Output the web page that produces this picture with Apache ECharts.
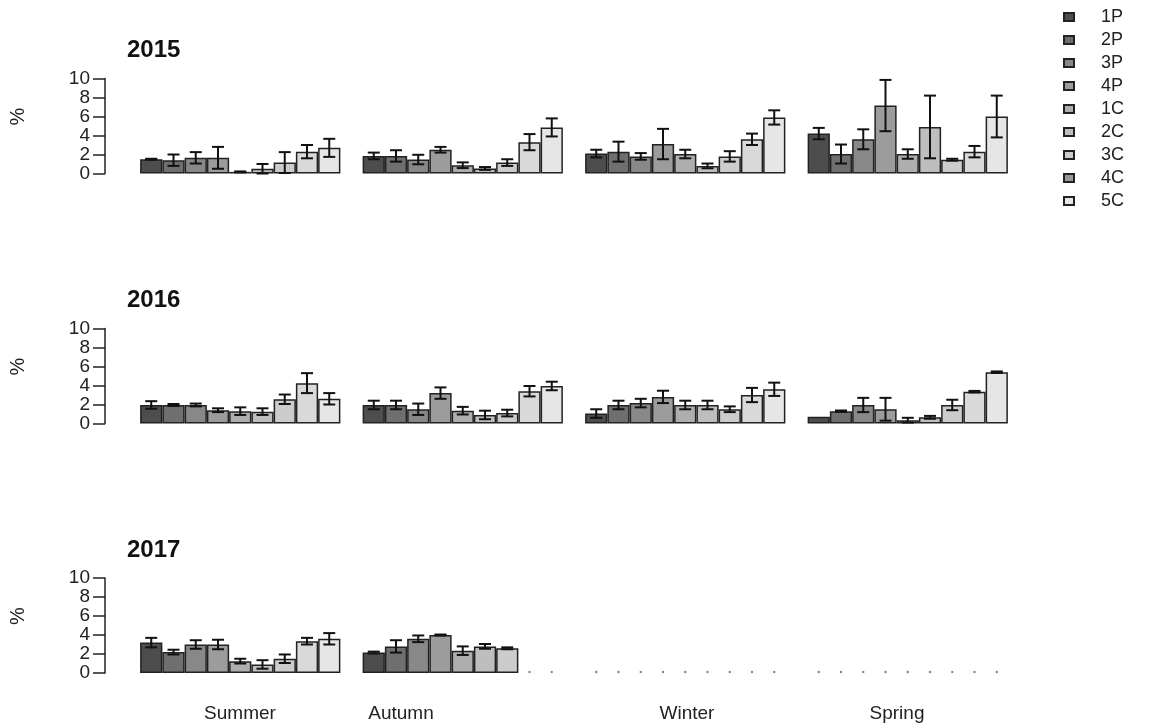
<!DOCTYPE html>
<html>
<head>
<meta charset="utf-8">
<script src="https://cdn.jsdelivr.net/npm/echarts@6/dist/echarts.min.js"></script>
<style>
html,body{margin:0;padding:0;background:#fff;}
#main{width:1149px;height:728px;}
</style>
</head>
<body>
<div id="main"></div>
<script>
var years = ['2015', '2016', '2017'];
var seasons = ['Summer', 'Autumn', 'Winter', 'Spring'];
var groups = ['1P', '2P', '3P', '4P', '1C', '2C', '3C', '4C', '5C'];
var colors = ['#4d4d4d', '#6f6f6f', '#888888', '#9c9c9c', '#aeaeae', '#bebebe', '#cccccc', '#d9d9d9', '#e6e6e6'];

// means per season (rows) and group (columns)
var mean2015 = [
	[1.5, 1.4, 1.65, 1.65, 0.17, 0.5, 1.15, 2.3, 2.7],
	[1.85, 1.85, 1.47, 2.5, 0.87, 0.53, 1.15, 3.3, 4.85],
	[2.1, 2.3, 1.8, 3.1, 2.05, 0.8, 1.8, 3.6, 5.9],
	[4.2, 2.05, 3.6, 7.15, 2.05, 4.9, 1.45, 2.3, 6.0]
];
var err2015 = [
	[0.05, 0.6, 0.6, 1.15, 0.05, 0.5, 1.1, 0.7, 0.95],
	[0.35, 0.6, 0.5, 0.3, 0.3, 0.15, 0.35, 0.85, 0.95],
	[0.4, 1.05, 0.35, 1.6, 0.45, 0.25, 0.55, 0.6, 0.75],
	[0.6, 1.0, 1.05, 2.7, 0.5, 3.3, 0.1, 0.6, 2.2]
];
var mean2016 = [
	[1.95, 1.95, 1.95, 1.4, 1.3, 1.25, 2.55, 4.25, 2.6],
	[1.95, 1.95, 1.5, 3.2, 1.35, 0.9, 1.1, 3.4, 3.95],
	[1.05, 1.95, 2.15, 2.8, 1.95, 1.95, 1.5, 3.0, 3.6],
	[0.7, 1.3, 1.95, 1.5, 0.35, 0.65, 1.95, 3.35, 5.4]
];
var err2016 = [
	[0.4, 0.1, 0.15, 0.2, 0.4, 0.35, 0.5, 1.05, 0.6],
	[0.45, 0.45, 0.6, 0.6, 0.4, 0.45, 0.35, 0.55, 0.45],
	[0.45, 0.45, 0.45, 0.65, 0.45, 0.45, 0.3, 0.75, 0.7],
	[0, 0.07, 0.75, 1.2, 0.25, 0.15, 0.55, 0.08, 0.08]
];
var mean2017 = [
	[3.2, 2.2, 3.0, 3.0, 1.25, 0.9, 1.5, 3.35, 3.6],
	[2.15, 2.8, 3.6, 4.0, 2.35, 2.8, 2.6, null, null],
	[null, null, null, null, null, null, null, null, null],
	[null, null, null, null, null, null, null, null, null]
];
var err2017 = [
	[0.5, 0.25, 0.45, 0.5, 0.25, 0.45, 0.45, 0.35, 0.6],
	[0.1, 0.65, 0.35, 0.05, 0.45, 0.25, 0.1, 0, 0],
	[0, 0, 0, 0, 0, 0, 0, 0, 0],
	[0, 0, 0, 0, 0, 0, 0, 0, 0]
];

var means = [mean2015, mean2016, mean2017];
var errs = [err2015, err2016, err2017];

var fontFam = '"Liberation Sans", Arial, sans-serif';
var gridTops = [78.5, 328.5, 578];
var chart = echarts.init(document.getElementById('main'));

var grids = [], xAxes = [], yAxes = [], series = [], graphics = [], titles = [];

function errorBars(params, api) {
	var s = api.value(0), v = api.value(1), e = api.value(2), g = api.value(3);
	var bw = api.size([1, 0])[0] / 10;
	var base = api.coord([s, 0]);
	var x = base[0] + (g - 4) * bw;
	var st = {stroke: '#111', lineWidth: 2};
	if (e < 0) {
		// missing value: small dot at the baseline
		return {type: 'circle', shape: {cx: x, cy: base[1] - 1, r: 1.2}, style: {fill: '#888'}};
	}
	if (e === 0) return null;
	var top = api.coord([s, v + e])[1];
	var bot = api.coord([s, Math.max(v - e, 0)])[1];
	var cw = 6;
	return {
		type: 'group',
		children: [
			{type: 'line', shape: {x1: x, y1: top, x2: x, y2: bot}, style: st},
			{type: 'line', shape: {x1: x - cw, y1: top, x2: x + cw, y2: top}, style: st},
			{type: 'line', shape: {x1: x - cw, y1: bot, x2: x + cw, y2: bot}, style: st}
		]
	};
}

for (var p = 0; p < years.length; p++) {
	grids.push({left: 129, right: 130, top: gridTops[p], height: 95});
	xAxes.push({
		type: 'category', gridIndex: p, data: seasons,
		axisLine: {show: false}, axisTick: {show: false}, axisLabel: {show: false}
	});
	yAxes.push({
		type: 'value', gridIndex: p, min: 0, max: 10, interval: 2, offset: 24,
		axisLine: {show: true, lineStyle: {color: '#222', width: 1.5}},
		axisTick: {show: true, length: 12, lineStyle: {color: '#222', width: 1.5}},
		axisLabel: {
			margin: 15, color: '#222', fontSize: 19, fontFamily: fontFam, lineHeight: 14,
			showMinLabel: true, showMaxLabel: true, hideOverlap: false
		},
		splitLine: {show: false}
	});
	titles.push({
		text: years[p], left: 122, top: gridTops[p] - 45,
		textStyle: {fontSize: 24, fontWeight: 'bold', color: '#111', fontFamily: fontFam}
	});
	graphics.push({
		type: 'text', x: 18, y: gridTops[p] + 38, rotation: Math.PI / 2,
		style: {text: '%', font: '20px ' + fontFam, fill: '#222', textAlign: 'center', textVerticalAlign: 'middle'}
	});
	var m = means[p], er = errs[p];
	var errData = [];
	for (var g = 0; g < groups.length; g++) {
		var vals = [];
		for (var s = 0; s < seasons.length; s++) {
			vals.push(m[s][g]);
			if (m[s][g] === null) errData.push([s, 0, -1, g]);
			else errData.push([s, m[s][g], er[s][g], g]);
		}
		series.push({
			type: 'bar', name: groups[g], xAxisIndex: p, yAxisIndex: p,
			data: vals, barGap: '0%', barCategoryGap: '10%',
			itemStyle: {color: colors[g], borderColor: '#222', borderWidth: 1.5},
			emphasis: {disabled: true}, animation: false
		});
	}
	series.push({
		type: 'custom', xAxisIndex: p, yAxisIndex: p, z: 5,
		renderItem: errorBars, data: errData,
		encode: {x: 0, y: 1}, animation: false, silent: true
	});
}

var labelX = [240, 401, 687, 897];
for (var i = 0; i < seasons.length; i++) {
	graphics.push({
		type: 'text', x: labelX[i], y: 714,
		style: {text: seasons[i], font: '19px ' + fontFam, fill: '#222', textAlign: 'center', textVerticalAlign: 'middle'}
	});
}

var legendData = groups.map(function (n) {
	if (n === '4C') return {name: n, itemStyle: {color: '#999999'}};
	return {name: n};
});

var option = {
	backgroundColor: '#fff',
	animation: false,
	title: titles,
	grid: grids,
	xAxis: xAxes,
	yAxis: yAxes,
	legend: {
		data: legendData, orient: 'vertical', left: 1058, top: 3,
		icon: 'rect', itemWidth: 10, itemHeight: 8, itemGap: 5,
		selectedMode: false,
		textStyle: {fontSize: 18, color: '#222', fontFamily: fontFam, lineHeight: 18, padding: [0, 0, 0, 22]}
	},
	graphic: graphics,
	series: series
};
chart.setOption(option);
</script>
</body>
</html>
